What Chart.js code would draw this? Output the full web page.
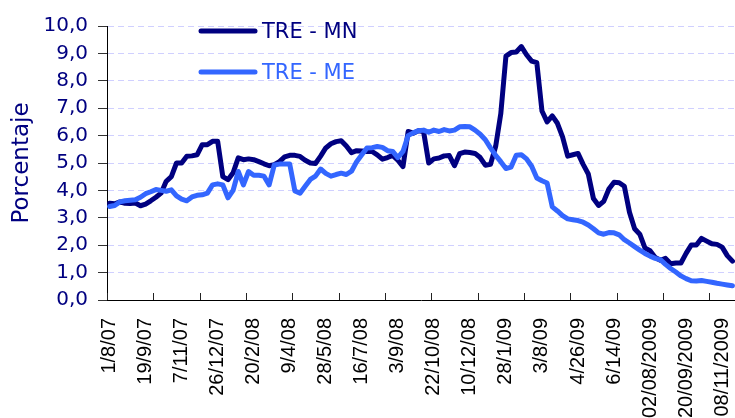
<!DOCTYPE html>
<html lang="es">
<head>
<meta charset="UTF-8">
<title>TRE - MN / TRE - ME</title>
<script src="https://cdn.jsdelivr.net/npm/chart.js"></script>
<style>
    body { margin: 0; background: #fff; overflow: hidden; }
    #chart { display: block; }
</style>
</head>
<body>
<canvas id="chart" width="735" height="418"></canvas>
<script>
    // fechas que se muestran en el eje x (una cada 7 semanas)
    const tickLabels = ['1/8/07', '19/9/07', '7/11/07', '26/12/07', '20/2/08', '9/4/08', '28/5/08',
        '16/7/08', '3/9/08', '22/10/08', '10/12/08', '28/1/09', '3/8/09', '4/26/09', '6/14/09',
        '02/08/2009', '20/09/2009', '08/11/2009'];
    const labelStep = 7;
    const tickStep = 9;

    // tasa semanal, moneda nacional
    const tasaMN = [
        3.53, 3.51, 3.58, 3.53, 3.52, 3.54, 3.44, 3.50, 3.62, 3.75,
        3.90, 4.33, 4.50, 5.00, 5.00, 5.25, 5.26, 5.30, 5.67, 5.67,
        5.79, 5.79, 4.50, 4.39, 4.64, 5.19, 5.12, 5.15, 5.12, 5.05,
        4.97, 4.90, 4.94, 5.05, 5.22, 5.28, 5.28, 5.24, 5.10, 5.00,
        4.98, 5.25, 5.55, 5.70, 5.78, 5.81, 5.62, 5.38, 5.45, 5.44,
        5.42, 5.42, 5.30, 5.14, 5.20, 5.28, 5.10, 4.87, 6.15, 6.09,
        6.18, 6.15, 5.00, 5.15, 5.18, 5.26, 5.27, 4.90, 5.34, 5.40,
        5.38, 5.35, 5.20, 4.92, 4.95, 5.60, 6.80, 8.90, 9.03, 9.05,
        9.25, 8.95, 8.72, 8.66, 6.90, 6.50, 6.72, 6.45, 5.95, 5.25,
        5.30, 5.35, 4.95, 4.60, 3.70, 3.45, 3.60, 4.05, 4.30, 4.28,
        4.15, 3.20, 2.60, 2.40, 1.90, 1.80, 1.55, 1.45, 1.52, 1.32,
        1.35, 1.35, 1.70, 2.01, 2.01, 2.25, 2.15, 2.05, 2.03, 1.93,
        1.62, 1.42
    ];

    // tasa semanal, moneda extranjera
    const tasaME = [
        3.41, 3.45, 3.58, 3.62, 3.64, 3.66, 3.75, 3.88, 3.95, 4.03,
        4.00, 3.97, 4.02, 3.80, 3.68, 3.62, 3.76, 3.82, 3.84, 3.90,
        4.20, 4.24, 4.20, 3.73, 4.00, 4.69, 4.20, 4.69, 4.55, 4.55,
        4.52, 4.20, 4.93, 4.96, 4.96, 4.96, 3.98, 3.90, 4.15, 4.40,
        4.52, 4.78, 4.62, 4.52, 4.58, 4.63, 4.58, 4.70, 5.05, 5.30,
        5.55, 5.56, 5.60, 5.57, 5.45, 5.42, 5.20, 5.42, 6.00, 6.10,
        6.18, 6.20, 6.12, 6.20, 6.15, 6.22, 6.17, 6.20, 6.32, 6.33,
        6.32, 6.20, 6.05, 5.85, 5.55, 5.28, 5.05, 4.80, 4.85, 5.28,
        5.30, 5.15, 4.88, 4.45, 4.35, 4.27, 3.40, 3.25, 3.08, 2.96,
        2.93, 2.90, 2.84, 2.74, 2.60, 2.45, 2.40, 2.46, 2.45, 2.38,
        2.20, 2.08, 1.95, 1.82, 1.70, 1.60, 1.52, 1.47, 1.30, 1.15,
        1.02, 0.88, 0.78, 0.70, 0.69, 0.71, 0.68, 0.65, 0.61, 0.58,
        0.55, 0.52
    ];

    const categories = tasaMN.map((v, i) => i % labelStep === 0 ? (tickLabels[i / labelStep] || '') : '');

    // marcas del eje x hacia adentro, una cada 9 semanas
    const innerTicks = {
        id: 'innerTicks',
        afterDatasetsDraw(chart) {
            const x = chart.scales.x;
            const ctx = chart.ctx;
            const half = (x.getPixelForValue(1) - x.getPixelForValue(0)) / 2;
            ctx.save();
            ctx.strokeStyle = '#222';
            ctx.lineWidth = 1;
            for (let i = 0; i < categories.length; i += tickStep) {
                const px = Math.round(x.getPixelForValue(i) - half) + 0.5;
                ctx.beginPath();
                ctx.moveTo(px, x.top);
                ctx.lineTo(px, x.top - 7);
                ctx.stroke();
            }
            ctx.restore();
        }
    };

    // leyenda dentro del area del grafico
    const legendBox = {
        id: 'legendBox',
        afterDraw(chart) {
            const ctx = chart.ctx;
            const a = chart.chartArea;
            ctx.save();
            ctx.font = '21px "DejaVu Sans"';
            ctx.textBaseline = 'middle';
            ctx.lineCap = 'round';
            chart.data.datasets.forEach((ds, k) => {
                const y = a.top + 5 + k * 41;
                ctx.strokeStyle = ds.borderColor;
                ctx.lineWidth = 5;
                ctx.beginPath();
                ctx.moveTo(a.left + 94, y);
                ctx.lineTo(a.left + 148, y);
                ctx.stroke();
                ctx.fillStyle = ds.borderColor;
                ctx.fillText(ds.label, a.left + 155, y + 2);
            });
            ctx.restore();
        }
    };

    new Chart(document.getElementById('chart'), {
        type: 'line',
        data: {
            labels: categories,
            datasets: [
                {
                    label: 'TRE - MN',
                    data: tasaMN,
                    borderColor: '#000080',
                    borderWidth: 5,
                    borderJoinStyle: 'round',
                    borderCapStyle: 'round',
                    pointRadius: 0,
                    tension: 0,
                    order: 1
                },
                {
                    label: 'TRE - ME',
                    data: tasaME,
                    borderColor: '#3366ff',
                    borderWidth: 5,
                    borderJoinStyle: 'round',
                    borderCapStyle: 'round',
                    pointRadius: 0,
                    tension: 0,
                    order: 0
                }
            ]
        },
        options: {
            responsive: false,
            animation: false,
            layout: { padding: { top: 26, right: 0, bottom: 0, left: 0 } },
            plugins: {
                legend: { display: false },
                tooltip: { enabled: false }
            },
            scales: {
                x: {
                    offset: true,
                    grid: { display: false, drawTicks: false },
                    border: { color: '#000' },
                    ticks: {
                        autoSkip: false,
                        maxRotation: 90,
                        minRotation: 90,
                        padding: 18,
                        color: '#000',
                        font: { family: 'Liberation Sans', size: 20 }
                    },
                    afterFit(s) {
                        s.height = 118;
                        s.paddingLeft = 0;
                        s.paddingRight = 0;
                    }
                },
                y: {
                    min: 0,
                    max: 10,
                    ticks: {
                        stepSize: 1,
                        padding: 10,
                        color: '#000080',
                        font: { family: 'DejaVu Sans', size: 20 },
                        callback: v => v.toFixed(1).replace('.', ',')
                    },
                    grid: {
                        color: c => (c.tick && c.tick.value === 0) ? 'rgba(0,0,0,0)' : '#d0d0ff',
                        tickColor: '#333',
                        tickLength: 9
                    },
                    border: { color: '#000', dash: [6, 4] },
                    title: {
                        display: true,
                        text: 'Porcentaje',
                        color: '#000080',
                        font: { family: 'DejaVu Sans', size: 23 },
                        padding: { top: 8, bottom: 0 }
                    },
                    afterFit(s) {
                        s.width = 107;
                    }
                }
            }
        },
        plugins: [innerTicks, legendBox]
    });
</script>
</body>
</html>
